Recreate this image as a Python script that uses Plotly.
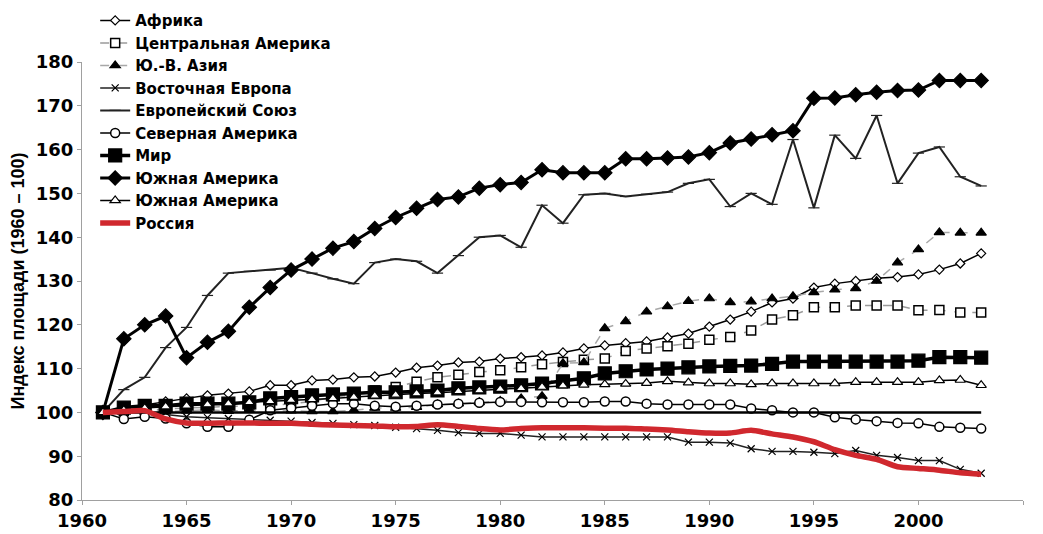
import plotly.graph_objects as go

years = list(range(1961, 2004))

africa = [100, 101, 101.7, 102.5, 103.2, 103.9, 104.3, 104.8, 106.2, 106.2,
          107.3, 107.5, 108, 108.2, 109.1, 110.2, 110.7, 111.4, 111.6, 112.3,
          112.6, 113, 113.7, 114.6, 115.3, 115.8, 116.2, 117.1, 118, 119.6,
          121.2, 123, 125.1, 126, 128.5, 129.4, 130, 130.6, 130.9, 131.5,
          132.6, 134, 136.3]

central_america = [100, 100.3, 100.6, 100.8, 101, 101.2, 101.3, 101.5, 101.5, 102,
                   102.5, 103.5, 104, 105, 105.8, 107, 108, 108.6, 109.2, 109.6,
                   110.3, 111, 111.5, 112, 112.3, 114, 114.6, 115.1, 115.7, 116.6,
                   117.2, 118.7, 121.2, 122.2, 124, 124, 124.4, 124.4, 124.4, 123.3,
                   123.4, 122.8, 122.8]

se_asia = [100, 100.3, 100.5, 100.2, 100.4, 100.6, 100.3, 100.5, 100.2, 100.4,
           100.2, 100.2, 100.5, 101, 101, 101.2, 101.8, 102, 102.3, 102.6,
           103.2, 103.7, 111.2, 111.4, 119.2, 120.8, 123, 124.2, 125.4, 126,
           125.1, 125.3, 126, 126.5, 127.4, 128, 128.3, 130, 134.2, 137.2,
           141.1, 141, 141]

east_europe = [100, 100.2, 100.3, 99.5, 99, 98.8, 98.6, 98.4, 98.2, 98,
               97.7, 97.5, 97.2, 97, 96.6, 96.3, 95.9, 95.4, 95.2, 95.2,
               94.8, 94.4, 94.4, 94.4, 94.4, 94.4, 94.4, 94.4, 93.2, 93.2,
               93, 91.7, 91.1, 91.1, 90.9, 90.6, 91.3, 90.2, 89.7, 89,
               89, 87, 86.1]

eu = [100, 105.2, 108, 114.8, 119.4, 126.7, 131.8, 132.2, 132.5, 133,
      131.8, 130.5, 129.4, 134.2, 135, 134.5, 131.8, 135.8, 140, 140.4,
      137.7, 147.3, 143.2, 149.7, 150, 149.3, 149.8, 150.3, 152.3, 153.2,
      147, 150, 147.5, 162.3, 146.7, 163.3, 158, 167.8, 152.3, 159.2,
      160.6, 153.8, 151.7]

north_america = [100, 98.5, 99, 98.6, 97.5, 96.7, 96.7, 98.3, 100.5, 101,
                 101.5, 102, 102, 101.5, 101.3, 101.5, 101.8, 102, 102.2, 102.4,
                 102.4, 102.3, 102.3, 102.3, 102.5, 102.5, 102, 101.8, 101.8, 101.8,
                 101.8, 100.9, 100.5, 100, 100, 98.9, 98.4, 98, 97.6, 97.5,
                 96.7, 96.5, 96.3]

world = [100, 101.1, 101.5, 101.5, 102, 102, 102, 102.3, 103.2, 103.5,
         103.9, 104.1, 104.3, 104.6, 104.6, 104.8, 105, 105.5, 105.7, 105.9,
         106.2, 106.6, 107.1, 107.8, 108.9, 109.4, 109.8, 110, 110.3, 110.5,
         110.6, 110.7, 111.1, 111.6, 111.6, 111.6, 111.6, 111.6, 111.6, 111.8,
         112.6, 112.6, 112.5]

south_america = [100, 116.8, 120, 122, 112.5, 116, 118.5, 124, 128.5, 132.5,
                 135, 137.5, 139, 142, 144.5, 146.6, 148.6, 149.2, 151.2, 152,
                 152.5, 155.4, 154.7, 154.7, 154.7, 157.9, 157.9, 158.1, 158.3, 159.3,
                 161.5, 162.4, 163.4, 164.3, 171.7, 171.8, 172.5, 173.1, 173.5, 173.6,
                 175.8, 175.8, 175.8]

south_america_2 = [100, 100.5, 101, 101.3, 101.5, 101.8, 102, 102.3, 102.5, 102.8,
                   103, 103.2, 103.5, 103.8, 104, 104.3, 104.5, 104.8, 105, 105.3,
                   105.5, 105.8, 106.1, 106.3, 106.4, 106.5, 106.7, 107.1, 106.8, 106.6,
                   106.6, 106.4, 106.6, 106.6, 106.6, 106.6, 106.9, 106.9, 106.9, 106.9,
                   107.3, 107.4, 106.2]

russia = [100, 100.2, 100.4, 98.5, 97.6, 97.5, 97.6, 97.6, 97.5, 97.5,
          97.3, 97.1, 97, 96.9, 96.7, 96.8, 97.2, 96.8, 96.3, 96,
          96.3, 96.5, 96.5, 96.5, 96.4, 96.4, 96.2, 96, 95.6, 95.3,
          95.3, 95.9, 95.1, 94.4, 93.3, 91.5, 90.2, 89.3, 87.6, 87.2,
          86.8, 86.2, 85.9]

baseline_years = [1961, 2003]
baseline = [100, 100]

fig = go.Figure()


def add_series(name, values, symbol, size, fill, line_color, line_width, dash="solid", mwidth=1.2):
    fig.add_trace(go.Scatter(
        x=years, y=values, name=name, mode="lines+markers",
        line=dict(color=line_color, width=line_width, dash=dash),
        marker=dict(symbol=symbol, size=size, color=fill,
                    line=dict(color="black", width=mwidth)),
    ))


add_series("Африка", africa, "diamond", 7, "white", "black", 1.5)
add_series("Центральная Америка", central_america, "square", 9, "white", "#9a9a9a", 1.5, "dash", 1.5)
add_series("Ю.-В. Азия", se_asia, "triangle-up", 9, "black", "#a8a8a8", 1.5, "dash")
add_series("Восточная Европа", east_europe, "x-thin-open", 7, "black", "#222", 1.5)
add_series("Европейский Союз", eu, "line-ew-open", 8, "#222", "#222", 2)
add_series("Северная Америка", north_america, "circle", 9, "white", "black", 1.5, mwidth=1.5)
add_series("Мир", world, "square", 13, "black", "black", 3.5)
add_series("Южная Америка", south_america, "diamond", 11, "black", "black", 3)
add_series("Южная Америка", south_america_2, "triangle-up", 9, "white", "black", 1.5)

# flat reference line at 100
fig.add_trace(go.Scatter(x=baseline_years, y=baseline, mode="lines", showlegend=False,
                         line=dict(color="black", width=2.5), hoverinfo="skip"))

fig.add_trace(go.Scatter(x=years, y=russia, name="Россия", mode="lines",
                         line=dict(color="#d0282e", width=5.5, shape="spline", smoothing=0.6)))

axis_style = dict(showline=True, linecolor="#a0a0a0", linewidth=1, ticks="outside",
                  ticklen=4, tickcolor="#a0a0a0", showgrid=False, zeroline=False,
                  tickfont=dict(family="DejaVu Sans", size=18, color="black", weight="bold"))

fig.update_xaxes(range=[1960, 2005], tick0=1960, dtick=5, **axis_style)
fig.update_yaxes(range=[80, 180], tick0=80, dtick=10, **axis_style,
                 title=dict(text="Индекс площади (1960 – 100)", standoff=8,
                            font=dict(family="Liberation Sans", size=18, color="black", weight="bold")))

# page body has an 8px margin, so the figure is a bit smaller than the window
fig.update_layout(
    width=1035, height=526,
    margin=dict(l=74, r=20, t=54, b=34, autoexpand=False),
    paper_bgcolor="white", plot_bgcolor="white",
    legend=dict(x=0.014, y=1.132, xanchor="left", yanchor="top",
                bgcolor="rgba(0,0,0,0)", tracegroupgap=0,
                font=dict(family="DejaVu Sans", size=15, color="black", weight="bold")),
)

fig.write_html("out.html")
